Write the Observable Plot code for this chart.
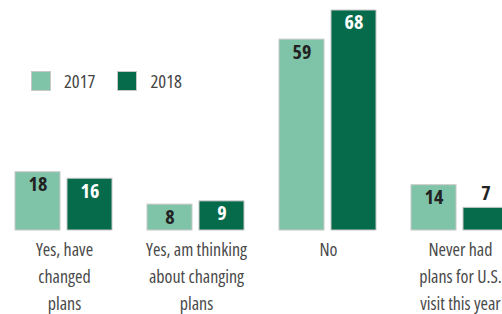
<!DOCTYPE html>
<html><head><meta charset="utf-8">
<script src="https://cdn.jsdelivr.net/npm/d3@7"></script>
<script src="https://cdn.jsdelivr.net/npm/@observablehq/plot@0.6"></script>
<style>
html,body{margin:0;padding:0;background:#fff;overflow:hidden;}
#wrap{position:relative;width:502px;height:314px;overflow:hidden;}
#wrap svg text{font-family:"Open Sans",sans-serif;font-stretch:75%;}
#legend{position:absolute;left:31px;top:71px;display:flex;align-items:center;font-family:"Open Sans",sans-serif;font-stretch:75%;font-size:18.5px;color:#444;line-height:20px;}
#legend .sw{width:20px;height:20px;border:1px solid #c8c8c8;box-sizing:border-box;display:inline-block;}
#legend .lab{margin-left:13px;margin-right:22px;}
</style></head>
<body><div id="wrap"><div id="legend"></div></div>
<script>
const categories = ["Yes, have\nchanged\nplans", "Yes, am thinking\nabout changing\nplans", "No", "Never had\nplans for U.S.\nvisit this year"];
const years = ["2017", "2018"];
const values2017 = [18, 8, 59, 14];
const values2018 = [16, 9, 68, 7];
const colors = ["#7fc4a8", "#066b4b"];

const data = [];
categories.forEach((c, i) => {
  data.push({cat: c, year: "2017", value: values2017[i]});
  data.push({cat: c, year: "2018", value: values2018[i]});
});

const inside = d => d.value >= 8;

const chart = Plot.plot({
  width: 502,
  height: 314,
  marginTop: 10,
  marginBottom: 84,
  marginLeft: 0,
  marginRight: 0,
  style: {background: "white"},
  fx: {domain: categories, range: [-3.25, 526.75], padding: 0, label: null},
  x: {domain: years, paddingInner: 0.132, paddingOuter: 0.316, axis: null},
  y: {domain: [0, 68], range: [230, 10], axis: null},
  color: {domain: years, range: colors},
  marks: [
    Plot.barY(data, {fx: "cat", x: "year", y: "value", fill: "year", stroke: "#c8c8c8", strokeWidth: 1}),
    Plot.text(data.filter(inside), {fx: "cat", x: "year", y: "value", text: d => String(d.value), dy: 12.5, lineAnchor: "middle", fontSize: 20, fontWeight: "bold", fill: d => d.year === "2017" ? "#222" : "#fff"}),
    Plot.text(data.filter(d => !inside(d)), {fx: "cat", x: "year", y: "value", text: d => String(d.value), dy: -14.5, lineAnchor: "middle", fontSize: 20, fontWeight: "bold", fill: "#222"}),
    Plot.axisFx({anchor: "bottom", tickSize: 0, tickPadding: 7, fontSize: 18, lineHeight: 1.48, fill: "#4a4a4a", label: null})
  ]
});
document.getElementById("wrap").prepend(chart);

const legend = document.getElementById("legend");
years.forEach((y, i) => {
  const sw = document.createElement("span");
  sw.className = "sw"; sw.style.background = colors[i];
  const lab = document.createElement("span");
  lab.className = "lab"; lab.textContent = y;
  legend.append(sw, lab);
});
</script></body></html>
